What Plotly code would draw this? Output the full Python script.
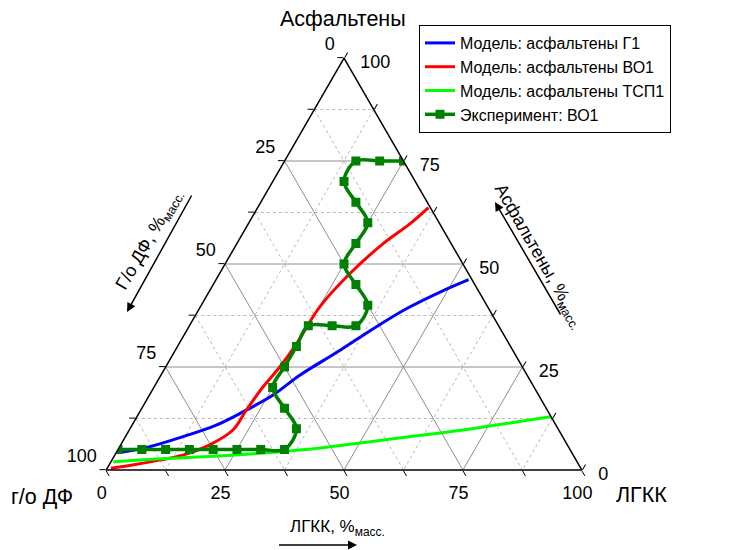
import plotly.graph_objects as go

# ---------------- data (a = Асфальтены, b = г/о ДФ, c = ЛГКК; %масс.) ----------------
exp_a = [5, 5, 5, 5, 5, 5, 5, 5, 10, 15, 20, 25, 30, 35, 35, 35, 40, 45, 50, 55, 60, 65, 70, 75, 75, 75]
exp_b = [95, 90, 85, 80, 75, 70, 65, 60, 55, 55, 55, 50, 45, 40, 35, 30, 25, 25, 25, 20, 15, 15, 15, 10, 5, 0]
exp_c = [0, 5, 10, 15, 20, 25, 30, 35, 35, 30, 25, 25, 25, 25, 30, 35, 35, 30, 25, 25, 25, 20, 15, 15, 20, 25]

g1_a = [4.2, 5.6, 8.1, 10.9, 14.1, 18.2, 23.0, 29.0, 34.3, 39.2, 43.2, 46.2]
g1_c = [0.3, 6.2, 12.1, 17.7, 21.7, 26.0, 29.2, 34.6, 39.0, 43.6, 48.6, 53.1]

vo1_a = [0.4, 1.2, 2.4, 3.6, 6.1, 9.7, 14.5, 20.2, 25.0, 30.7, 39.6, 47.7, 55.0, 59.8, 63.7]
vo1_c = [0.8, 4.9, 10.0, 14.3, 18.7, 21.8, 22.2, 22.9, 24.0, 24.7, 25.1, 27.4, 30.8, 34.0, 35.9]

tsp1_a = [2.0, 2.8, 3.6, 4.2, 5.3, 7.7, 10.1, 12.9]
tsp1_c = [0.5, 11.2, 24.8, 31.6, 41.9, 57.3, 72.2, 87.0]

tick_vals = [0, 12.5, 25, 37.5, 50, 62.5, 75, 87.5, 100]
tick_text = ["100", "", "75", "", "50", "", "25", "", "0"]
major_grid = [25, 50, 75]
minor_grid = [12.5, 37.5, 62.5, 87.5]

TOTAL = 100
FONT = "Liberation Sans, Arial, sans-serif"
NB = "\u00a0"

# ---------------- layout helpers ----------------
OFF = 8  # page body margin of the html page
L, R, T, B = 92, 153, 50, 88
W, H = 733 - L - R, 550 - T - B


def xp(px):
    return (px - OFF - L) / W


def yp(py):
    return (550 - B - (py - OFF)) / H


def grid_lines(vals):
    a, b, c = [], [], []
    for v in vals:
        a += [v, v, None, TOTAL - v, 0, None, TOTAL - v, 0, None]
        b += [TOTAL - v, 0, None, v, v, None, 0, TOTAL - v, None]
        c += [0, TOTAL - v, None, 0, TOTAL - v, None, v, v, None]
    return a, b, c


# label placement tweaks (left labels sit a little higher, right ones lower/right, bottom ones left)
left_text = [t + "<br>" + NB if t else "" for t in tick_text]
bottom_text = [t + NB * 3 if t else "" for t in tick_text]
right_text = [NB + "<br>" + NB * 2 + t if t else "" for t in tick_text]

fig = go.Figure()

ga, gb, gc = grid_lines(minor_grid)
fig.add_trace(go.Scatterternary(a=ga, b=gb, c=gc, mode="lines", connectgaps=False,
                                line=dict(color="#b8b8b8", width=1, dash="3px,3px"),
                                hoverinfo="skip", showlegend=False))
ga, gb, gc = grid_lines(major_grid)
fig.add_trace(go.Scatterternary(a=ga, b=gb, c=gc, mode="lines", connectgaps=False,
                                line=dict(color="#8e8e8e", width=1),
                                hoverinfo="skip", showlegend=False))

fig.add_trace(go.Scatterternary(a=g1_a, c=g1_c, sum=TOTAL, mode="lines",
                                name="Модель: асфальтены Г1",
                                line=dict(color="#0000ff", width=3, shape="spline")))
fig.add_trace(go.Scatterternary(a=vo1_a, c=vo1_c, sum=TOTAL, mode="lines",
                                name="Модель: асфальтены ВО1",
                                line=dict(color="#ff0000", width=3, shape="spline")))
fig.add_trace(go.Scatterternary(a=tsp1_a, c=tsp1_c, sum=TOTAL, mode="lines",
                                name="Модель: асфальтены ТСП1",
                                line=dict(color="#00ff00", width=3, shape="spline")))
fig.add_trace(go.Scatterternary(a=exp_a, b=exp_b, c=exp_c, mode="lines+markers",
                                name="Эксперимент: ВО1",
                                line=dict(color="#008000", width=3.5, shape="spline"),
                                marker=dict(symbol="square", size=9, color="#008000")))


def axis(texts):
    return dict(
        tickmode="array", tickvals=tick_vals, ticktext=texts,
        showgrid=False, showline=True, linecolor="black", linewidth=1.5,
        ticks="outside", ticklen=6, tickcolor="black", tickwidth=1,
        tickfont=dict(size=18, color="black", family=FONT),
        title=dict(text=""),
    )


fig.update_layout(
    width=733, height=550,
    margin=dict(l=L, r=R, t=T, b=B, autoexpand=False),
    paper_bgcolor="white",
    font=dict(family=FONT, color="black"),
    ternary=dict(
        sum=TOTAL, bgcolor="white",
        domain=dict(x=[0, 1], y=[0, 1]),
        aaxis=axis(left_text), baxis=axis(bottom_text), caxis=axis(right_text),
    ),
    legend=dict(
        x=xp(419), y=yp(25), xanchor="left", yanchor="top",
        bordercolor="black", borderwidth=1, bgcolor="white",
        font=dict(size=16, color="black", family=FONT),
        tracegroupgap=0,
    ),
    showlegend=True,
)

ann = []
ann.append(dict(text="Асфальтены", x=xp(343), y=yp(19), font=dict(size=21.5)))
ann.append(dict(text="г/о ДФ", x=xp(42), y=yp(497), font=dict(size=21.5)))
ann.append(dict(text="ЛГКК", x=xp(641), y=yp(495), font=dict(size=21.5)))
ann.append(dict(text="Г/о ДФ, %<sub>масс.</sub>", x=xp(149), y=yp(240), textangle=-60, font=dict(size=18)))
ann.append(dict(text="Асфальтены, %<sub>масс.</sub>", x=xp(539), y=yp(256), textangle=60, font=dict(size=18)))
ann.append(dict(text="ЛГКК, %<sub>масс.</sub>", x=xp(337), y=yp(528), font=dict(size=17)))
for a_ in ann:
    a_.update(xref="paper", yref="paper", showarrow=False, xanchor="center", yanchor="middle")
    a_["font"].update(family=FONT, color="black")

arrows = [((127, 312), (193, 193)), ((495, 202), (562, 317)), ((357, 545), (277, 545))]
for (hx, hy), (tx, ty) in arrows:
    ann.append(dict(text=" ", x=xp(hx), y=yp(hy), xref="paper", yref="paper",
                    axref="pixel", ayref="pixel",
                    ax=tx - hx, ay=ty - hy, showarrow=True, arrowhead=2, arrowsize=1.2,
                    arrowwidth=1.5, arrowcolor="black", standoff=0, startstandoff=0,
                    font=dict(size=2)))
fig.update_layout(annotations=ann)

fig.write_html("out.html")
